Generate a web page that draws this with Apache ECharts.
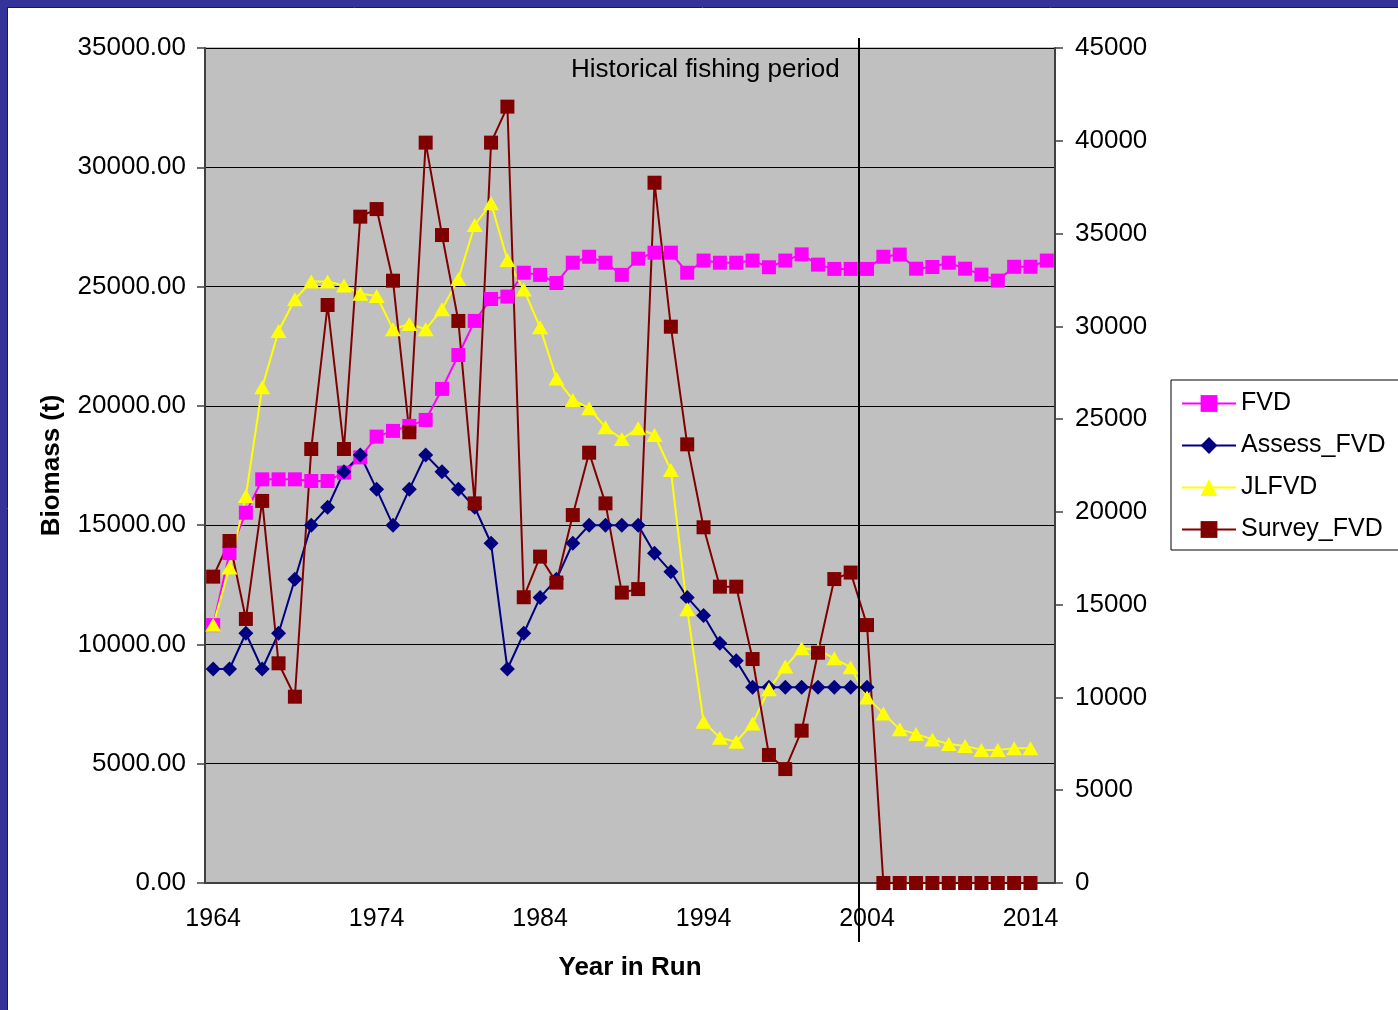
<!DOCTYPE html>
<html>
<head>
<meta charset="utf-8">
<script src="https://cdn.jsdelivr.net/npm/echarts@6/dist/echarts.min.js"></script>
<style>
  html, body { margin: 0; padding: 0; background: #ffffff; }
  #chart { width: 1398px; height: 1010px; }
</style>
</head>
<body>
<div id="chart"></div>
<script>
// Years of the model run
const years = ['1964','1965','1966','1967','1968','1969','1970','1971','1972','1973',
  '1974','1975','1976','1977','1978','1979','1980','1981','1982','1983',
  '1984','1985','1986','1987','1988','1989','1990','1991','1992','1993',
  '1994','1995','1996','1997','1998','1999','2000','2001','2002','2003',
  '2004','2005','2006','2007','2008','2009','2010','2011','2012','2013',
  '2014','2015'];

// Biomass (t), left axis
const fvd = [10810, 13830, 15520, 16920, 16920, 16920, 16850, 16850, 17200, 17840,
  18710, 18950, 19160, 19410, 20710, 22130, 23560, 24480, 24580, 25580,
  25490, 25150, 26000, 26250, 26000, 25490, 26170, 26420, 26420, 25580,
  26090, 26000, 26000, 26090, 25810, 26090, 26350, 25920, 25740, 25740,
  25740, 26250, 26340, 25750, 25820, 26000, 25750, 25500, 25250, 25830,
  25830, 26090];

const assessFvd = [8970, 8970, 10470, 8970, 10470, 12730, 15000, 15750, 17240, 17940,
  16500, 15000, 16500, 17940, 17240, 16500, 15750, 14240, 8970, 10470,
  11970, 12730, 14240, 15000, 15000, 15000, 15000, 13820, 13050, 11970,
  11210, 10050, 9320, 8200, 8200, 8200, 8200, 8200, 8200, 8200,
  8200, null, null, null, null, null, null, null, null, null,
  null, null];

const jlFvd = [10820, 13220, 16220, 20780, 23140, 24470, 25210, 25210, 25040, 24700,
  24610, 23210, 23430, 23210, 24050, 25320, 27580, 28490, 26110, 24880,
  23290, 21150, 20250, 19900, 19100, 18610, 19060, 18780, 17310, 11470,
  6760, 6090, 5920, 6690, 8120, 9070, 9840, 9770, 9420, 9040,
  7780, 7110, 6440, 6250, 6020, 5830, 5740, 5580, 5580, 5650,
  5650, null];

// Survey index, right axis
const surveyFvd = [16510, 18430, 14230, 20590, 11840, 10040, 23390, 31150, 23390, 35910,
  36320, 32460, 24290, 39900, 34920, 30290, 20460, 39900, 41840, 15400,
  17590, 16190, 19830, 23190, 20460, 15650, 15840, 37740, 29980, 23640,
  19170, 15970, 15970, 12070, 6900, 6140, 8210, 12410, 16380, 16730,
  13900, 0, 0, 0, 0, 0, 0, 0, 0, 0,
  0, null];

// Axis scales
const leftTicks = [0, 5000, 10000, 15000, 20000, 25000, 30000, 35000];
const rightTicks = [0, 5000, 10000, 15000, 20000, 25000, 30000, 35000, 40000, 45000];

// End of the historical fishing period (boundary between these two years)
const periodEnd = ['2003', '2004'];

const FONT = '"Liberation Sans", Arial, Helvetica, sans-serif';
const AXIS_COLOR = '#404040';

const chart = echarts.init(document.getElementById('chart'), null, { renderer: 'canvas' });

function lineSeries(name, data, color, symbol, size, axis) {
  return {
    name: name,
    type: 'line',
    yAxisIndex: axis,
    data: data,
    symbol: symbol,
    symbolSize: size,
    showAllSymbol: true,
    connectNulls: false,
    animation: false,
    lineStyle: { color: color, width: 2 },
    itemStyle: { color: color, borderWidth: 0 },
    emphasis: { disabled: true }
  };
}

chart.setOption({
  animation: false,
  textStyle: { fontFamily: FONT },
  title: {
    text: 'Historical fishing period',
    left: 571,
    top: 57,
    padding: 0,
    textStyle: { fontFamily: FONT, fontSize: 26, fontWeight: 'normal', color: '#000' }
  },
  legend: {
    orient: 'vertical',
    left: 1171,
    top: 380,
    itemWidth: 54,
    itemHeight: 21,
    itemGap: 17,
    padding: [11, 30, 8, 10],
    borderColor: '#000',
    borderWidth: 1,
    backgroundColor: '#ffffff',
    lineStyle: { width: 2 },
    textStyle: { fontFamily: FONT, fontSize: 25, color: '#000' },
    data: ['FVD', 'Assess_FVD', 'JLFVD', 'Survey_FVD']
  },
  grid: {
    left: 205, top: 48, right: 343, bottom: 127,
    show: true,
    backgroundColor: '#C0C0C0',
    borderColor: '#808080',
    borderWidth: 1
  },
  xAxis: {
    type: 'category',
    data: years,
    boundaryGap: true,
    name: 'Year in Run',
    nameLocation: 'middle',
    nameGap: 72,
    nameTextStyle: { fontFamily: FONT, fontSize: 26, fontWeight: 'bold', color: '#000' },
    axisLine: { lineStyle: { color: AXIS_COLOR, width: 2 } },
    axisTick: { interval: 4, length: 8, lineStyle: { color: AXIS_COLOR, width: 1.5 } },
    axisLabel: { interval: 9, fontSize: 25, color: '#000', margin: 24, fontFamily: FONT },
    splitLine: { show: false }
  },
  yAxis: [
    {
      type: 'value',
      position: 'left',
      min: leftTicks[0],
      max: leftTicks[leftTicks.length - 1],
      interval: leftTicks[1] - leftTicks[0],
      name: 'Biomass (t)',
      nameLocation: 'middle',
      nameGap: 140,
      nameRotate: 90,
      nameTextStyle: { fontFamily: FONT, fontSize: 26, fontWeight: 'bold', color: '#000' },
      axisLine: { show: true, lineStyle: { color: AXIS_COLOR, width: 2 } },
      axisTick: { show: true, length: 8, lineStyle: { color: AXIS_COLOR, width: 1.5 } },
      axisLabel: {
        fontSize: 26, color: '#000', margin: 19, fontFamily: FONT,
        formatter: function (v) { return v.toFixed(2); }
      },
      splitLine: { show: true, lineStyle: { color: '#000', width: 1 } }
    },
    {
      type: 'value',
      position: 'right',
      min: rightTicks[0],
      max: rightTicks[rightTicks.length - 1],
      interval: rightTicks[1] - rightTicks[0],
      axisLine: { show: true, lineStyle: { color: AXIS_COLOR, width: 2 } },
      axisTick: { show: true, length: 8, lineStyle: { color: AXIS_COLOR, width: 1.5 } },
      axisLabel: {
        fontSize: 26, color: '#000', margin: 20, fontFamily: FONT,
        formatter: function (v) { return String(v); }
      },
      splitLine: { show: false }
    }
  ],
  series: [
    lineSeries('FVD', fvd, '#FF00FF', 'rect', 14, 0),
    lineSeries('Assess_FVD', assessFvd, '#000080', 'diamond', 15, 0),
    lineSeries('JLFVD', jlFvd, '#FFFF00', 'triangle', [16, 14], 0),
    lineSeries('Survey_FVD', surveyFvd, '#800000', 'rect', 14, 1)
  ]
});

// Divider marking the end of the historical period, plus the page frame
const xa = chart.convertToPixel({ xAxisIndex: 0 }, periodEnd[0]);
const xb = chart.convertToPixel({ xAxisIndex: 0 }, periodEnd[1]);
const dividerX = Math.round((xa + xb) / 2);
const plotTop = chart.convertToPixel({ yAxisIndex: 0 }, leftTicks[leftTicks.length - 1]);
const plotBottom = chart.convertToPixel({ yAxisIndex: 0 }, leftTicks[0]);

chart.setOption({
  graphic: [
    {
      type: 'line', z: 100,
      shape: { x1: dividerX, y1: plotTop - 10, x2: dividerX, y2: plotBottom + 59 },
      style: { stroke: '#000', lineWidth: 2 }
    },
    { type: 'rect', z: 100, shape: { x: 0, y: 0, width: 1398, height: 7 }, style: { fill: '#333399' } },
    { type: 'rect', z: 100, shape: { x: 0, y: 0, width: 7, height: 1010 }, style: { fill: '#333399' } },
    { type: 'line', z: 100, shape: { x1: 7, y1: 7.5, x2: 1398, y2: 7.5 }, style: { stroke: '#1a1a4d', lineWidth: 1 } },
    { type: 'line', z: 100, shape: { x1: 7.5, y1: 7, x2: 7.5, y2: 1010 }, style: { stroke: '#1a1a4d', lineWidth: 1 } }
  ]
});
</script>
</body>
</html>
